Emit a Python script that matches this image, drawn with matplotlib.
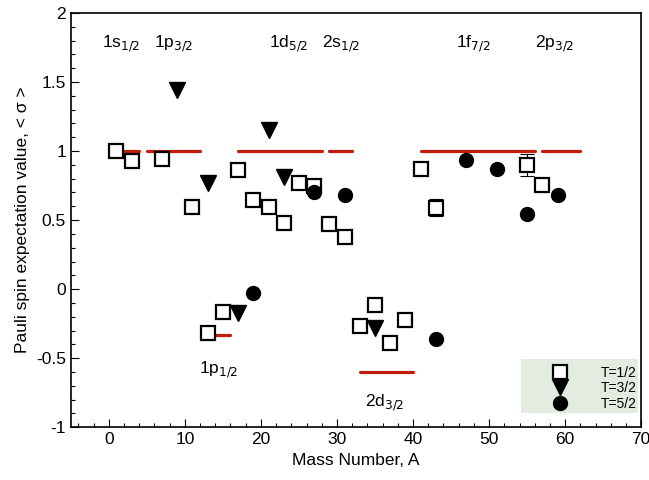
import matplotlib
matplotlib.use("Agg")
import matplotlib.pyplot as plt
from matplotlib.patches import Rectangle
from matplotlib.ticker import MultipleLocator

plt.rcParams["font.family"] = ["Liberation Sans", "DejaVu Sans"]

# T=1/2 nuclei (open squares)
a_t12 = [1, 3, 7, 11, 13, 15, 17, 19, 21, 23, 25, 27, 29, 31, 33, 35, 37, 39, 41, 43, 55, 57]
s_t12 = [1.0, 0.93, 0.945, 0.595, -0.315, -0.165, 0.865, 0.645, 0.595, 0.48, 0.768, 0.745,
         0.475, 0.38, -0.268, -0.118, -0.39, -0.225, 0.872, 0.59, 0.90, 0.752]
err_t12 = [0, 0, 0, 0, 0, 0, 0, 0, 0, 0, 0, 0, 0, 0, 0, 0, 0, 0, 0, 0.06, 0.08, 0]

# T=3/2 (filled triangles)
a_t32 = [9, 13, 17, 21, 23, 35]
s_t32 = [1.44, 0.765, -0.17, 1.15, 0.81, -0.285]

# T=5/2 (filled circles)
a_t52 = [19, 27, 31, 43, 47, 51, 55, 59]
s_t52 = [-0.027, 0.70, 0.68, -0.362, 0.937, 0.868, 0.546, 0.68]

# single-particle values per shell: (A start, A end, value)
shell_start = [2, 5, 14, 17, 29, 33, 41, 57]
shell_end = [4, 12, 16, 28, 32, 40, 56, 62]
shell_val = [1, 1, -1/3, 1, 1, -0.6, 1, 1]

shell_names = [r"1s$_{1/2}$", r"1p$_{3/2}$", r"1d$_{5/2}$", r"2s$_{1/2}$",
               r"1f$_{7/2}$", r"2p$_{3/2}$", r"1p$_{1/2}$", r"2d$_{3/2}$"]
name_x = [1.7, 8.5, 23.7, 30.5, 47.9, 58.6, 14.4, 36.3]
name_y = [1.78, 1.78, 1.78, 1.78, 1.78, 1.78, -0.58, -0.82]

red = "#c01c0c"

fig = plt.figure(figsize=(6.49, 4.8), dpi=100)
ax = fig.add_axes([0.109, 0.110, 0.879, 0.863])

for x0, x1, v in zip(shell_start, shell_end, shell_val):
    ax.plot([x0, x1], [v, v], color=red, lw=2.3, solid_capstyle="round", zorder=1)

ax.errorbar([a for a, e in zip(a_t12, err_t12) if e > 0],
            [s for s, e in zip(s_t12, err_t12) if e > 0],
            yerr=[e for e in err_t12 if e > 0], fmt="none", ecolor="black",
            elinewidth=0.8, capsize=5, capthick=0.8, zorder=2)
ax.plot(a_t12, s_t12, "s", ms=9.5, mfc="white", mec="black", mew=1.6, ls="none",
        label="T=1/2", zorder=3)
ax.plot(a_t32, s_t32, "v", ms=11, color="black", ls="none", label="T=3/2", zorder=3)
ax.plot(a_t52, s_t52, "o", ms=10, color="black", ls="none", label="T=5/2", zorder=3)

for name, x, y in zip(shell_names, name_x, name_y):
    ax.text(x, y, name, fontsize=12.5, ha="center", va="center")

ax.set_xlim(-5, 70)
ax.set_ylim(-1, 2)
ax.xaxis.set_major_locator(MultipleLocator(10))
ax.xaxis.set_minor_locator(MultipleLocator(2))
ax.yaxis.set_major_locator(MultipleLocator(0.5))
ax.yaxis.set_minor_locator(MultipleLocator(0.1))
ax.yaxis.set_major_formatter(plt.FuncFormatter(lambda v, p: f"{v:g}"))
ax.tick_params(which="both", direction="in", top=False, right=False, labelsize=12.5)
ax.tick_params(which="major", length=6, width=0.8)
ax.tick_params(which="minor", length=3, width=0.8)
for sp in ax.spines.values():
    sp.set_linewidth(1.2)

ax.set_xlabel("Mass Number, A", fontsize=12.5)
ax.set_ylabel("Pauli spin expectation value, < σ >", fontsize=12.5)

# legend background box
ax.add_patch(Rectangle((0.789, 0.034), 0.206, 0.130, transform=ax.transAxes,
                       facecolor="#e4ebe1", edgecolor="none", zorder=4))
leg = ax.legend(loc="lower right", fontsize=10, frameon=False,
                labelspacing=0.1, handletextpad=2.2, borderpad=0.3,
                handlelength=1.5, bbox_to_anchor=(1.0, 0.03), borderaxespad=0)
leg.set_zorder(5)

fig.savefig("out.png", dpi=100)
